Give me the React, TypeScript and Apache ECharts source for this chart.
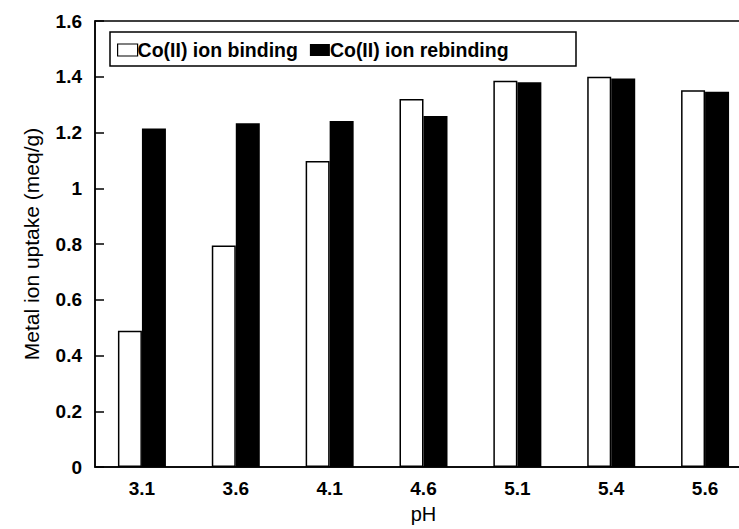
import React, { useEffect, useRef } from "react";
import * as echarts from "echarts";

const categories = ["3.1", "3.6", "4.1", "4.6", "5.1", "5.4", "5.6"];
const bindingValues = [0.489, 0.795, 1.098, 1.32, 1.386, 1.4, 1.352];
const rebindingValues = [1.214, 1.233, 1.241, 1.259, 1.38, 1.394, 1.346];
const seriesNames = ["Co(II) ion binding", "Co(II) ion rebinding"];
const yTicks = { min: 0, max: 1.6, interval: 0.2 };

export default function App() {
  const ref = useRef<HTMLDivElement>(null);
  useEffect(() => {
    if (!ref.current) return;
    const chart = echarts.init(ref.current, null, { renderer: "svg" });
    const font = "'Liberation Sans', Arial, Helvetica, sans-serif";
    chart.setOption({
      animation: false,
      backgroundColor: "#ffffff",
      textStyle: { fontFamily: font, color: "#000" },
      grid: {
        left: 95,
        top: 21,
        width: 657,
        height: 446,
        outerBoundsMode: "none",
        show: true,
        borderColor: "#000",
        borderWidth: 1.5,
        backgroundColor: "transparent",
      },
      legend: {
        left: 117,
        top: 40,
        itemWidth: 20,
        itemHeight: 12,
        itemGap: 12,
        padding: 0,
        textStyle: { fontFamily: font, fontSize: 19.5, fontWeight: "bold", color: "#000", padding: [0, 0, 0, -5] },
        data: [
          { name: seriesNames[0], icon: "rect", itemStyle: { color: "#fff", borderColor: "#000", borderWidth: 1.2 } },
          { name: seriesNames[1], icon: "rect", itemStyle: { color: "#000", borderColor: "#000", borderWidth: 0 } },
        ],
      },
      graphic: [
        {
          type: "rect",
          shape: { x: 110, y: 32, width: 466, height: 34 },
          style: { fill: "none", stroke: "#000", lineWidth: 1.5 },
          z: 10,
        },
      ],
      xAxis: {
        type: "category",
        data: categories,
        name: "pH",
        nameLocation: "middle",
        nameGap: 37,
        nameTextStyle: { fontFamily: font, fontSize: 20, color: "#000" },
        axisLine: { show: true, lineStyle: { color: "#000", width: 1.5 } },
        axisTick: { show: false },
        axisLabel: { color: "#000", fontSize: 19, fontWeight: "bold", fontFamily: font, margin: 12 },
        splitLine: { show: false },
      },
      yAxis: {
        type: "value",
        min: yTicks.min,
        max: yTicks.max,
        interval: yTicks.interval,
        name: "Metal ion uptake (meq/g)",
        nameLocation: "middle",
        nameGap: 53,
        nameRotate: 90,
        nameTextStyle: { fontFamily: font, fontSize: 21, color: "#000" },
        axisLine: { show: true, lineStyle: { color: "#000", width: 1.5 } },
        axisTick: { show: true, inside: true, length: 9, lineStyle: { color: "#000", width: 1.5 } },
        axisLabel: { color: "#000", fontSize: 19, fontWeight: "bold", fontFamily: font, margin: 13 },
        splitLine: { show: false },
      },
      series: [
        {
          name: seriesNames[0],
          type: "bar",
          data: bindingValues,
          barWidth: 24,
          barGap: "0%",
          itemStyle: { color: "#fff", borderColor: "#000", borderWidth: 1.5 },
        },
        {
          name: seriesNames[1],
          type: "bar",
          data: rebindingValues,
          barWidth: 24,
          barGap: "0%",
          itemStyle: { color: "#000" },
        },
      ],
    });
    return () => chart.dispose();
  }, []);
  return (
    <div
      ref={ref}
      style={{ position: "fixed", left: 0, top: 0, width: 739, height: 529, background: "#fff" }}
    />
  );
}
